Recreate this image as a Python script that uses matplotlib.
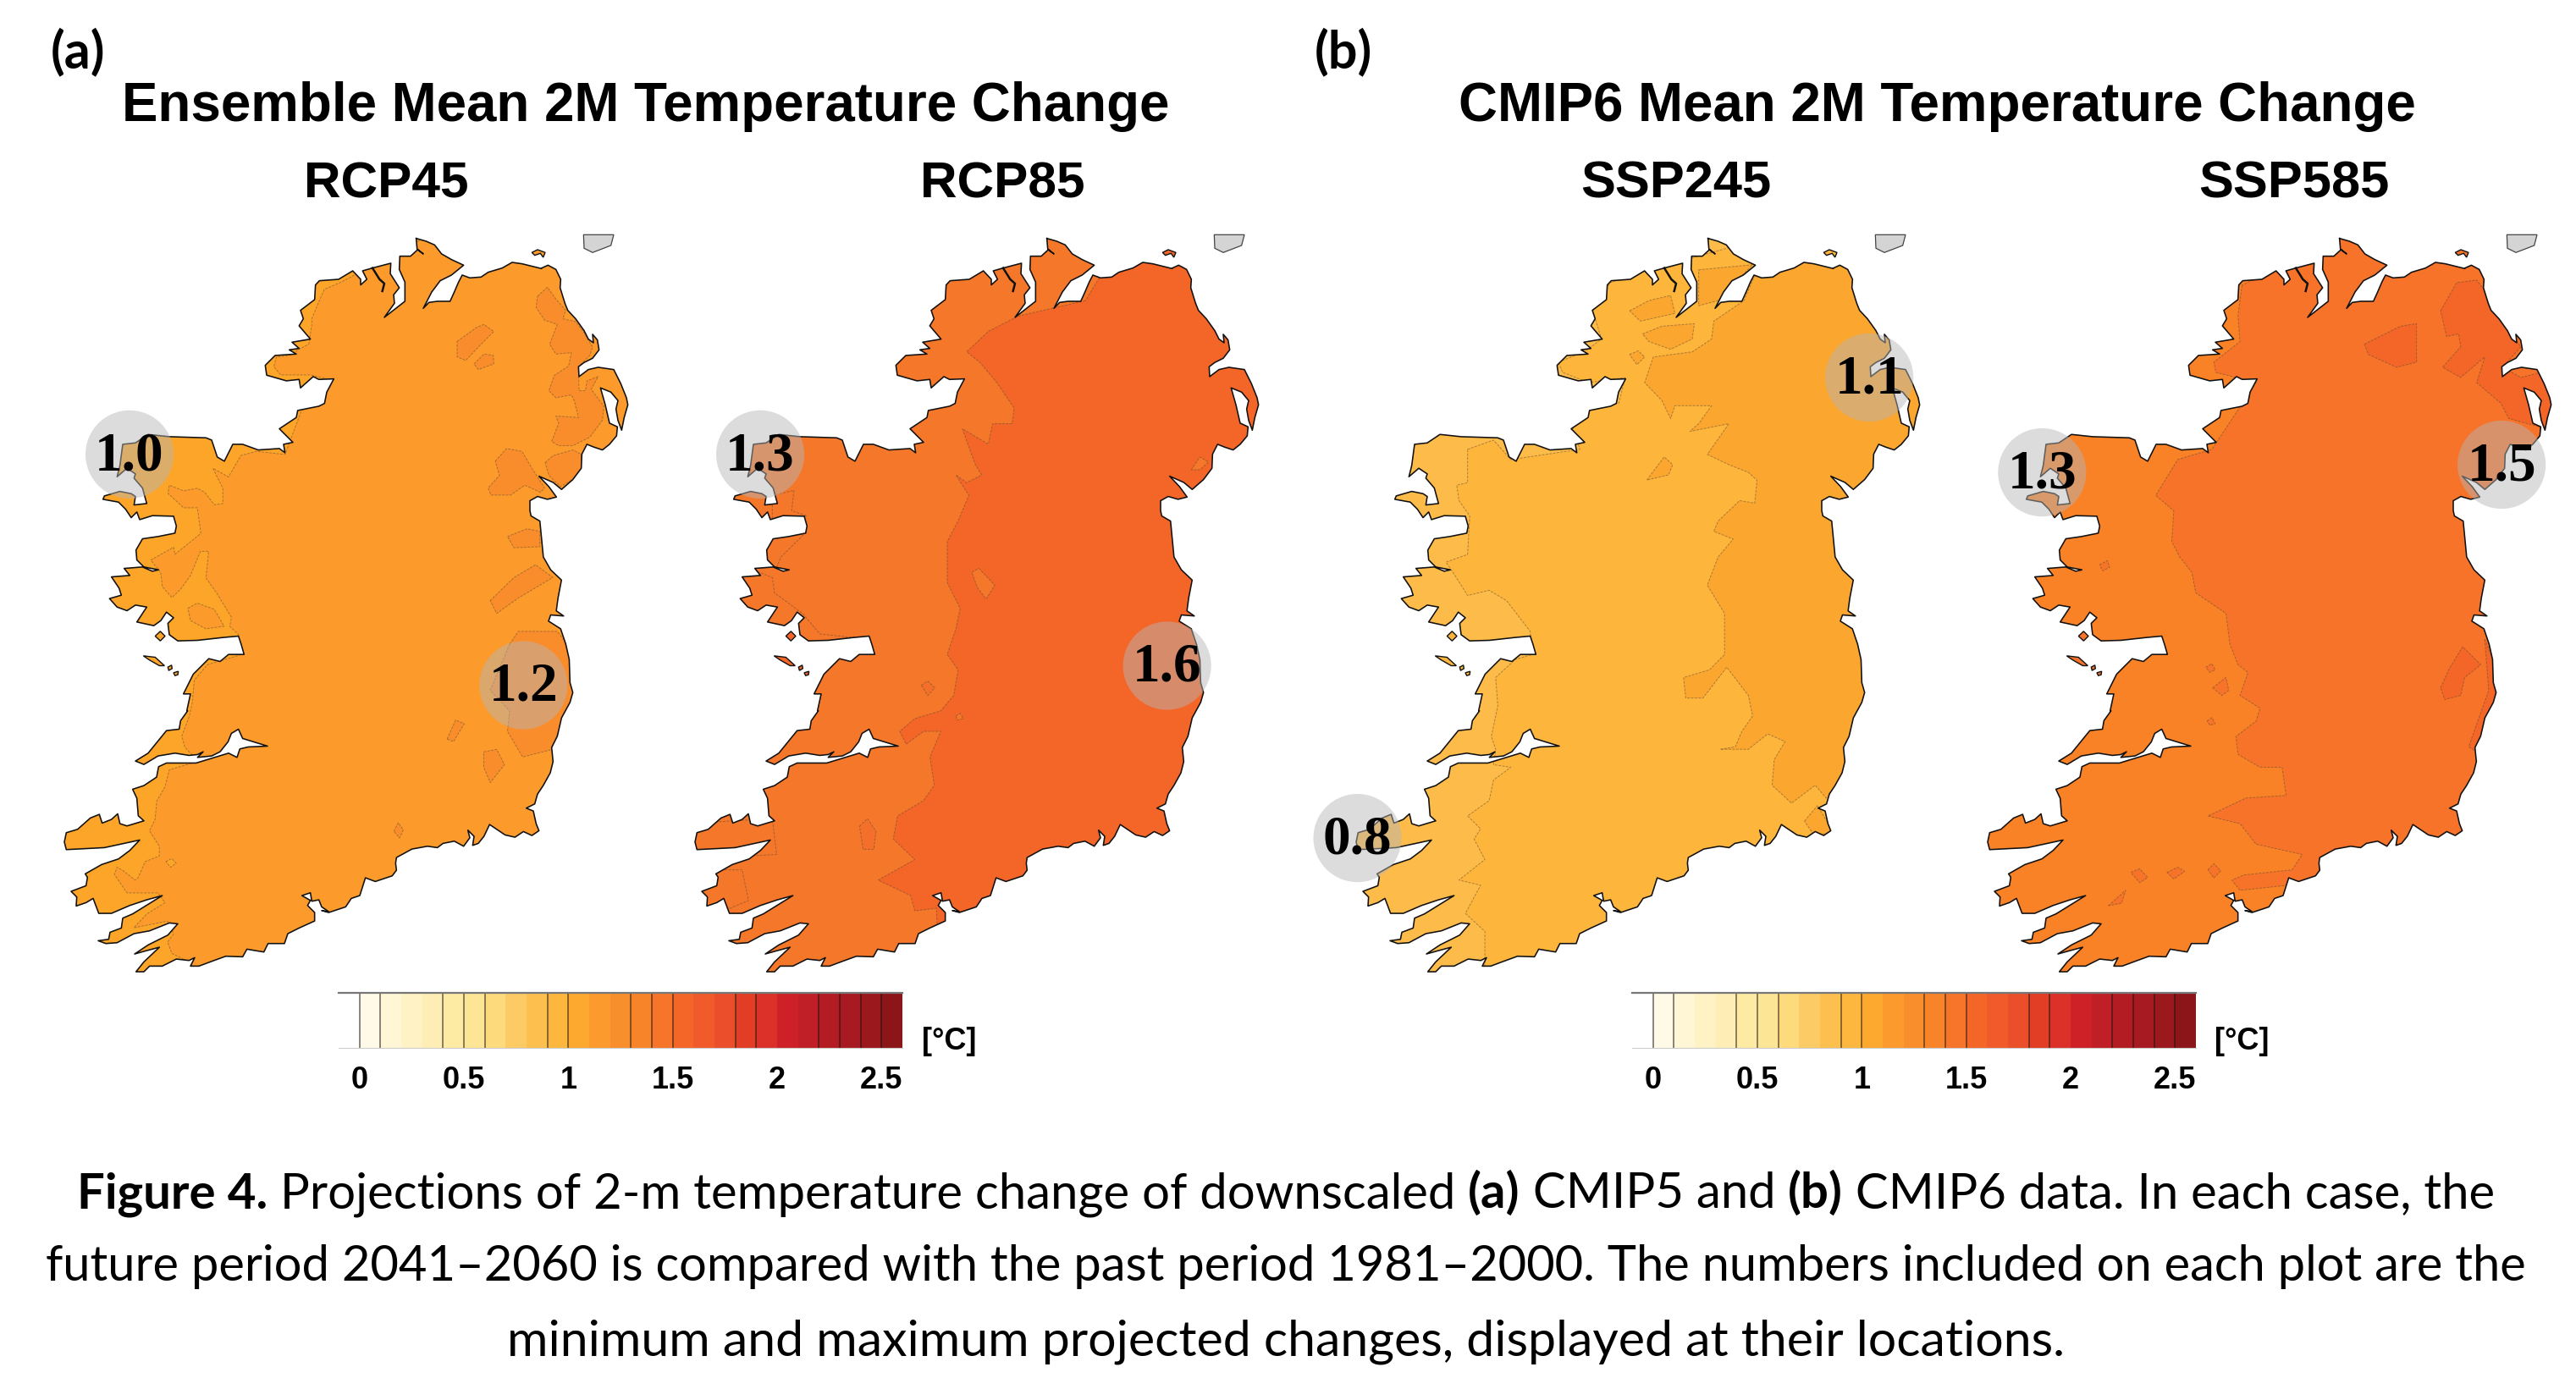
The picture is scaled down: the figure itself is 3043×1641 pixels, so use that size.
import matplotlib
matplotlib.use('Agg')
import matplotlib.pyplot as plt
from matplotlib.patches import Polygon, Ellipse

W, H = 3043, 1641

# coast of Ireland, traced clockwise from the north tip, in stretches.
# each stretch has its own reading frame: (left px, top px, units per px x, units per px y)
north_frame = (300, 270, 3, 3)
north_coast = [(575,35),(610,45),(640,58),(665,90),(700,110),(743,130),(700,165),(660,185),(630,225),(600,283),(620,262),(650,258),(695,258),(710,225),(725,190),(738,165),(765,175),(805,172),(830,155),(880,140),(915,120),(950,125),(990,135),(1019,142)]
ne_frame = (540, 270, 3, 3)
ne_coast = [(300,140),(322,130),(350,145),(367,180),(365,210),(382,265),(392,290),(420,320),(450,362),(465,392),(483,405),(480,375),(497,395),(503,430),(480,460),(450,475),(430,490),(432,525),(465,500),(500,492),(555,500),(580,550),(600,600),(605,625),(592,670),(583,715),(570,680),(563,640),(570,610),(545,580),(508,565),(525,625),(540,690),(568,703),(565,735),(540,765),(515,785),(485,775),(460,765),(442,800),(440,850),(410,890),(370,925),(340,900),(290,878),(325,915),(352,952),(320,960),(285,950),(258,965),(258,1000),(262,1019)]
map_frame = (0, 240, 1.96, 1.65)
east_coast = [(1250,620),(1258,690),(1275,715),(1300,735),(1292,770),(1288,795),(1305,805),(1275,803),(1270,815),(1298,830),(1310,860),(1318,890)]
se_frame = (380, 800, 3, 3)
se_coast = [(880,20),(890,55),(880,90),(850,145),(835,210),(815,250),(820,300),(810,340),(785,385),(765,415),(755,450),(725,465),(750,475),(760,520),(770,545),(745,562),(715,548),(685,568),(650,560),(595,523),(575,565),(555,590),(535,597),(540,565),(518,543),(525,570),(503,600),(470,582),(430,590),(410,605),(375,600),(320,610),(265,640),(262,660),(265,685),(250,705),(190,725),(155,712),(135,775),(105,785),(85,815),(25,835),(0,828)]
sw_frame = (60, 840, 3, 3)
sw_coast = [(985,712),(960,695),(950,670),(925,675),(920,645),(890,655),(920,672),(910,690),(935,715),(935,745),(880,770),(840,790),(828,825),(770,825),(755,855),(695,845),(680,872),(620,870),(565,890),(525,905),(495,905),(510,875),(490,885),(445,880),(395,905),(350,905),(330,925),(302,925),(330,890),(385,838),(340,850),(297,862),(345,830),(415,795),(450,755),(420,752),(350,780),(295,790),(235,822),(195,825),(168,815),(205,810),(210,785),(250,770),(255,735),(290,720),(395,655),(340,670),(280,690),(215,718),(170,718),(150,665),(125,680),(90,692),(92,660),(72,640),(125,620),(130,590),(122,578),(180,545),(240,525),(280,495),(315,458),(190,485),(55,492),(48,465),(55,432),(95,420),(140,380),(172,367),(182,398),(215,385),(237,365),(245,400),(270,408),(330,390),(310,372),(305,310),(290,278),(330,265),(375,235),(382,198),(410,185),(515,185),(630,150),(660,165),(670,135),(700,128),(768,125),(680,98),(665,65),(640,80),(628,110),(600,145),(570,160),(520,165),(540,145),(520,155),(490,158),(440,150),(380,160),(330,190),(300,178),(345,150),(410,70),(455,65),(460,35),(485,0)]
west_frame = (100, 480, 3, 3)
west_coast = [(362,1080),(375,1020),(350,1020),(385,950),(440,895),(480,905),(510,880),(565,880),(555,845),(545,815),(490,820),(400,830),(330,832),(300,810),(295,770),(315,750),(290,730),(270,760),(245,778),(185,765),(220,712),(180,705),(150,725),(115,712),(88,682),(130,670),(122,645),(95,605),(160,600),(140,575),(205,570),(240,585),(262,580),(210,570),(185,545),(182,510),(205,470),(260,462),(320,450),(325,425),(315,390),(240,388),(195,402),(185,375),(165,395),(145,365),(120,340),(65,330),(70,318),(125,302),(165,310),(180,320),(175,350),(220,345),(205,290),(175,255),(180,240),(150,220),(115,250),(125,210),(135,135),(180,130),(225,100),(300,108),(430,112),(450,120),(470,180),(495,195),(525,135),(560,135),(615,155),(690,150),(710,165),(705,135),(738,128),(690,80)]
nw_coast = [(150,670),(155,645),(230,630),(250,620),(258,580),(283,533),(230,535),(210,525),(165,565),(160,535),(115,540),(45,520),(40,485),(75,450),(150,445),(125,430),(160,425),(135,403),(200,392),(160,345),(175,320),(165,290),(215,252),(218,200),(232,185),(300,180),(350,150),(378,180),(378,200),(400,180),(385,150),(420,140),(485,123),(483,160),(515,210),(495,235),(498,265),(462,315),(535,258),(535,190),(515,145),(517,98),(555,98),(580,75),(600,90),(578,72)]

foyle_line = [(420,140),(445,180),(462,195),(455,222)]
aran_1 = [(208,885),(250,890),(283,920),(265,920),(230,900)]
aran_2 = [(295,925),(308,918),(310,930),(298,937)]
aran_3 = [(315,945),(332,940),(330,952),(320,955)]
bofin = [(250,815),(268,798),(285,815),(268,832)]
rathlin = [(265,85),(285,75),(312,85),(305,102),(295,88),(275,95)]
scotland = [(448,22),(555,22),(545,60),(480,85),(450,70)]

# shading levels, as read per panel
panel_names = ['RCP45', 'RCP85', 'SSP245', 'SSP585']
base_colors = ['#FDA528', '#F5772A', '#FDBB49', '#F98227']
mid_colors = ['#FC9B2B', '#F46528', '#FDB53C', '#F67329']
top_colors = ['#F98D2B', '#F5772A', '#FBA62F', '#F46528']

mid_rcp45 = [(790,154),(751,168),(741,187),(722,225),(722,236),(715,275),(692,285),(670,297),(640,300),(634,319),(650,335),(719,335),(770,345),(700,400),(660,490),(594,484),(558,492),(529,534),(493,517),(516,556),(516,586),(496,588),(474,564),(457,556),(425,561),(392,550),(389,566),(425,594),(457,594),(465,644),(405,685),(402,671),(349,696),(372,720),(376,748),(398,769),(418,753),(441,726),(464,679),(483,679),(477,731),(503,762),(536,808),(532,825),(552,841),(560,880),(480,900),(450,930),(445,975),(438,1001),(421,1039),(428,1061),(444,1075),(470,1085),(424,1097),(392,1105),(382,1138),(363,1166),(359,1202),(346,1224),(369,1254),(369,1273),(336,1284),(320,1315),(313,1320),(284,1301),(271,1295),(265,1309),(294,1345),(366,1345),(382,1364),(340,1386),(310,1413),(388,1400),(402,1425),(388,1441),(398,1463),(431,1477),(437,1600),(1600,1600),(1600,60),(1000,60)]
mid_rcp45_oval = [(435,790),(457,780),(496,792),(519,825),(477,830),(441,814)]
back_rcp45 = [(384,1284),(398,1278),(408,1287),(395,1295)]
top_rcp45_ne = [(285,240),(320,208),(350,250),(385,290),(375,320),(420,330),(450,370),(480,420),(470,450),(430,490),(432,575),(455,575),(460,540),(500,525),(475,570),(520,630),(515,680),(470,740),(410,770),(360,770),(335,755),(360,690),(350,665),(430,670),(415,610),(405,590),(350,600),(325,575),(345,520),(395,488),(405,440),(350,445),(328,410),(355,340),(310,325),(280,280)]
top_rcp45_blob1 = [(0,400),(70,350),(95,340),(130,365),(90,405),(30,468),(0,455)]
top_rcp45_blob2 = [(60,480),(95,445),(128,450),(130,480),(75,500)]
top_rcp45_blob3 = [(135,825),(175,780),(230,790),(265,850),(310,920),(295,935),(240,910),(190,945),(120,945),(110,920),(150,875)]
top_rcp45_blob4 = [(312,830),(340,805),(410,785),(440,800),(440,850),(410,890),(365,915),(325,875)]
top_rcp45 = [
    [(1175,650),(1220,635),(1250,640),(1250,670),(1190,672)],
    [(1135,775),(1190,730),(1240,705),(1280,730),(1200,770),(1150,800)],
    [(1180,860),(1200,835),(1290,835),(1400,950),(1300,1010),(1280,1065),(1210,1080),(1175,1030),(1180,990),(1135,950)],
    [(1035,1045),(1055,1008),(1075,1015),(1050,1050)],
    [(1120,1070),(1150,1065),(1168,1095),(1135,1130),(1120,1100)],
    [(912,1225),(922,1208),(934,1222),(925,1238)],
]

mid_rcp85 = [(985,190),(830,220),(760,250),(710,290),(740,310),(780,350),(820,400),(815,430),(770,430),(760,470),(700,440),(730,510),(745,530),(710,545),(685,530),(715,570),(690,620),(665,660),(665,740),(695,790),(685,830),(665,880),(690,910),(680,960),(650,990),(590,1005),(555,1030),(570,1055),(610,1030),(650,1030),(625,1080),(635,1135),(610,1165),(550,1195),(540,1240),(590,1280),(505,1320),(580,1350),(590,1380),(640,1375),(650,1600),(1600,1600),(1600,0),(1050,100)]
top_rcp85 = [
    [(738,712),(775,745),(755,772),(735,750),(722,720)],
    [(685,1000),(695,995),(702,1005),(688,1008)],
    [(1230,520),(1250,495),(1270,505),(1250,520)],
]
back_rcp85 = [
    [(60,1210),(260,1200),(270,1270),(60,1280)],
    [(90,1300),(190,1300),(205,1360),(90,1400)],
    [(170,700),(260,730),(265,760),(330,800),(370,840),(480,850),(400,870),(250,870),(150,800)],
    [(240,650),(340,640),(280,690),(270,710),(240,700)],
    [(260,570),(310,560),(305,600),(340,610),(260,620)],
]
dip_rcp85 = [
    [(605,940),(620,932),(636,945),(620,960)],
    [(462,1215),(480,1200),(500,1225),(495,1260),(470,1260)],
]

mid_ssp245 = [(380,480),(440,462),(480,500),(640,480),(620,430),(660,400),(730,390),(745,340),(660,350),(600,330),(590,310),(650,290),(690,265),(670,210),(710,155),(800,130),(1100,60),(1600,60),(1600,1600),(420,1600),(420,1420),(375,1385),(410,1330),(360,1320),(420,1280),(395,1240),(410,1220),(380,1195),(430,1165),(440,1125),(480,1100),(440,1095),(445,1065),(435,1040),(450,980),(445,925),(490,890),(530,880),(525,835),(470,775),(430,755),(380,765),(350,725),(330,700),(380,685),(385,610),(360,580),(355,550),(380,545)]
top_ssp245 = [
    [(1045,140),(1020,190),(950,230),(945,265),(900,290),(810,300),(790,350),(830,385),(850,420),(860,395),(945,395),(915,430),(895,445),(985,430),(935,490),(985,510),(1030,525),(1050,540),(1045,585),(1010,580),(960,620),(950,640),(995,655),(960,690),(935,745),(975,800),(975,880),(940,910),(880,925),(885,965),(925,965),(980,905),(1030,960),(1040,1000),(1015,1030),(1000,1060),(965,1065),(1030,1065),(1075,1035),(1115,1050),(1090,1085),(1085,1135),(1130,1170),(1185,1135),(1210,1160),(1600,1100),(1600,0),(1100,60)],
    [(1160,1205),(1190,1175),(1230,1230),(1180,1230)],
    [(795,540),(835,495),(855,510),(845,530)],
    [(915,130),(1040,120),(960,190),(915,200)],
    [(755,210),(800,190),(850,180),(860,215),(780,230)],
    [(785,255),(830,240),(905,235),(900,265),(850,285),(800,270)],
    [(755,295),(775,288),(790,300),(772,315)],
]

mid_ssp585 = [(735,160),(725,220),(730,270),(665,310),(670,330),(770,350),(660,480),(575,500),(520,570),(565,600),(560,660),(580,690),(610,720),(620,760),(695,800),(705,860),(725,900),(750,915),(730,960),(780,985),(770,1010),(720,1040),(725,1075),(780,1100),(835,1100),(845,1155),(745,1160),(650,1195),(730,1210),(770,1250),(885,1270),(860,1300),(740,1310),(710,1320),(730,1340),(850,1330),(850,1600),(1600,1600),(1600,0),(1000,60)]
top_ssp585 = [
    [(1230,210),(1270,155),(1320,150),(1345,175),(1370,220),(1430,280),(1385,320),(1430,340),(1480,330),(1520,370),(1495,440),(1400,420),(1380,390),(1320,350),(1340,300),(1280,340),(1235,320),(1280,280),(1275,255),(1245,260)],
    [(1040,275),(1130,240),(1170,235),(1170,310),(1120,320),(1050,295)],
    [(1230,945),(1250,910),(1285,865),(1330,900),(1290,925),(1280,960),(1240,968)],
    [(1340,850),(1390,950),(1320,1070),(1300,1060),(1350,950)],
]
dip_ssp585 = [
    [(458,1305),(480,1298),(500,1315),(480,1325)],
    [(548,1305),(575,1295),(592,1303),(565,1318)],
    [(650,1300),(665,1288),(682,1302),(665,1316)],
    [(402,1370),(445,1340),(435,1365)],
    [(380,705),(400,697),(405,710),(388,717)],
    [(645,905),(660,898),(668,910),(655,915)],
    [(662,945),(695,925),(702,950),(685,960)],
    [(648,1010),(660,1003),(668,1015),(655,1018)],
]

# reading offsets of the shading layers, per panel
panel_dx = [0, 68, 27, 55]
panel_sx = [1, 1, 1, 0.929]
panel_left = [0, 745, 1526, 2272]

# min / max labels (map units)
bubble_panel = [0, 0, 1, 1, 2, 2, 3, 3]
bubble_x = [300, 1212, 300, 1242, 152, 1337, 275, 1339]
bubble_y = [490, 940, 490, 902, 1238, 340, 525, 510]
bubble_text = ['1.0', '1.2', '1.3', '1.6', '0.8', '1.1', '1.3', '1.5']

# colour bar
cbar_edges = [round(-0.1 + 0.1 * i, 1) for i in range(27)]
cbar_colors = ['#FFFFFF','#FFFAE8','#FFF6D5','#FFF2C5','#FEEEB5','#FDEAA3','#FDE596','#FDDA7C','#FDCB66','#FDC04F','#FDB73E','#FDA82F','#FC9A2E','#F98F2C','#F8842A','#F6752A','#F46628','#F15A2A','#EA4E2A','#E23E26','#DB3129','#CE2027','#C01F27','#B41C24','#A81A21','#9B181D','#8C1519']
cbar_lines = [0, 0.1, 0.4, 0.5, 0.6, 0.9, 1.0, 1.3, 1.4, 1.5, 1.8, 1.9, 2.2, 2.3, 2.4, 2.5]
cbar_ticks = [0, 0.5, 1, 1.5, 2, 2.5]
cbar_ticklabels = ['0', '0.5', '1', '1.5', '2', '2.5']
cbar_left = [400, 1928]


def to_map(points, frame):
    # from the reading frame to map units (1.96 per px in x, 1.65 per px in y, top of maps at 240)
    left, top_px, ux, uy = frame
    return [((left + a / ux) * 1.96, (top_px + b / uy - 240) * 1.65) for a, b in points]


coast = (to_map(north_coast, north_frame) + to_map(ne_coast, ne_frame) + to_map(east_coast, map_frame)
         + to_map(se_coast, se_frame) + to_map(sw_coast, sw_frame) + to_map(west_coast, west_frame)
         + to_map(nw_coast, north_frame))
coast_x = [p[0] for p in coast]
coast_y = [p[1] for p in coast]

ne_blobs = [to_map(b, ne_frame) for b in [top_rcp45_ne, top_rcp45_blob1, top_rcp45_blob2, top_rcp45_blob3, top_rcp45_blob4]]
mid_layers = [[mid_rcp45], [mid_rcp85], [mid_ssp245], [mid_ssp585]]
top_layers = [top_rcp45 + ne_blobs, top_rcp85, top_ssp245, top_ssp585]
back_layers = [[back_rcp45], back_rcp85, [], []]
dip_layers = [[mid_rcp45_oval], dip_rcp85, [], dip_ssp585]
dip_colors = [mid_colors[0], '#F4702A', mid_colors[2], mid_colors[3]]

fig = plt.figure(figsize=(W / 100, H / 100), dpi=100, facecolor='white')


def ax_px(x, y, w, h):
    return fig.add_axes([x / W, 1 - (y + h) / H, w / W, h / H])


def layer(ax, polys, color, clip, sx, dx):
    for p in polys:
        xy = [(sx * a + dx, b) for a, b in p]
        patch = Polygon(xy, closed=True, facecolor=color, zorder=2, edgecolor=(0.35, 0.28, 0.2, 0.5),
                        linewidth=0.7, linestyle=(0, (3, 1.5)), joinstyle='round')
        ax.add_patch(patch)
        patch.set_clip_path(clip)


for i in range(4):
    ax = ax_px(panel_left[i], 240, 800, 950)
    ax.set_xlim(0, 1568)
    ax.set_ylim(1568, 0)
    ax.axis('off')
    ax.patch.set_alpha(0)

    land = Polygon(coast, closed=True, facecolor=base_colors[i], edgecolor='none', zorder=1)
    ax.add_patch(land)
    sx, dx = panel_sx[i], panel_dx[i]
    layer(ax, mid_layers[i], mid_colors[i], land, sx, dx)
    layer(ax, top_layers[i], top_colors[i], land, sx, dx)
    layer(ax, back_layers[i], base_colors[i], land, sx, dx)
    layer(ax, dip_layers[i], dip_colors[i], land, sx, dx)
    ax.plot(coast_x + coast_x[:1], coast_y + coast_y[:1], color='#111111', lw=1.15, zorder=3)
    for isl in [aran_1, aran_2, aran_3, bofin]:
        pts = to_map(isl, west_frame)
        ax.fill([p[0] for p in pts], [p[1] for p in pts], facecolor=mid_colors[i] if i != 0 else base_colors[i],
                edgecolor='#111111', lw=1.0, zorder=3)
    pts = to_map(rathlin, ne_frame)
    ax.fill([p[0] for p in pts], [p[1] for p in pts], facecolor=mid_colors[i], edgecolor='#111111', lw=1.0, zorder=3)
    pts = to_map(foyle_line, north_frame)
    ax.plot([p[0] for p in pts], [p[1] for p in pts], color='#111111', lw=1.8, zorder=3)
    pts = to_map(scotland, ne_frame)
    ax.fill([p[0] for p in pts], [p[1] for p in pts], facecolor='#D4D4D4', edgecolor='#444444', lw=0.9, zorder=3)

    for p, bx, by, t in zip(bubble_panel, bubble_x, bubble_y, bubble_text):
        if p != i:
            continue
        ax.add_patch(Ellipse((bx, by), 204, 172, facecolor='#B6B6B6', alpha=0.48,
                             edgecolor='none', zorder=4))
        ax.text(bx, by + 4, t, ha='center', va='center', family='Liberation Serif',
                weight='bold', fontsize=47, color='black', zorder=5)

for left in cbar_left:
    cax = ax_px(left, 1173, 666, 65)
    cax.bar(cbar_edges, [1] * len(cbar_edges), width=0.1, align='edge', color=cbar_colors, linewidth=0)
    cax.vlines(cbar_lines, 0, 1, color=(0.1, 0.08, 0.05, 0.6), lw=1.2)
    cax.set_xlim(-0.1, 2.6)
    cax.set_ylim(0, 1)
    cax.set_yticks([])
    cax.set_xticks(cbar_ticks)
    cax.set_xticklabels(cbar_ticklabels, family='Liberation Sans', weight='bold', fontsize=26)
    cax.tick_params(axis='x', length=0, pad=15)
    for s in ['left', 'right']:
        cax.spines[s].set_visible(False)
    cax.spines['top'].set_color('#777777')
    cax.spines['top'].set_linewidth(1.6)
    cax.spines['bottom'].set_color('#CCCCCC')

# overlay in pixel units for the headings and the caption
top = fig.add_axes([0, 0, 1, 1])
top.set_xlim(0, W)
top.set_ylim(H, 0)
top.axis('off')
top.patch.set_alpha(0)

for x in [1089, 2616]:
    top.text(x, 1230, '[°C]', ha='left', va='center', family='Liberation Sans', weight='bold', fontsize=26)

head = dict(family='Liberation Sans', weight='bold', ha='center', va='baseline')
top.text(763, 143, 'Ensemble Mean 2M Temperature Change', fontsize=45.8, **head)
top.text(2288, 143, 'CMIP6 Mean 2M Temperature Change', fontsize=45.8, **head)
top.text(456, 233, 'RCP45', fontsize=43.5, **head)
top.text(1184, 233, 'RCP85', fontsize=43.5, **head)
top.text(1980, 233, 'SSP245', fontsize=44.2, **head)
top.text(2710, 233, 'SSP585', fontsize=44.2, **head)
top.text(60, 80, '(a)', family='Lato', weight='bold', fontsize=44, ha='left', va='baseline')
top.text(1553, 80, '(b)', family='Lato', weight='bold', fontsize=44, ha='left', va='baseline')

caption = [
    (1427, 41.9, [('Figure 4.', 'bold'), (' Projections of 2-m temperature change of downscaled ', 'normal'), ('(a)', 'bold'),
                  (' CMIP5 and ', 'normal'), ('(b)', 'bold'), (' CMIP6 data. In each case, the', 'normal')]),
    (1513, 41.65, [('future period 2041–2060 is compared with the past period 1981–2000. The numbers included on each plot are the', 'normal')]),
    (1602, 42.5, [('minimum and maximum projected changes, displayed at their locations.', 'normal')]),
]
renderer = fig.canvas.get_renderer()
for base, size, runs in caption:
    items = []
    for txt, wt in runs:
        t = top.text(0, base, txt.replace(' ', '\u00a0'), family='Lato', weight=wt, fontsize=size, ha='left', va='baseline')
        items.append(t)
    widths = [t.get_window_extent(renderer).width for t in items]
    x = 1519 - sum(widths) / 2
    for t, w in zip(items, widths):
        t.set_x(x)
        x += w

fig.savefig('out.png', dpi=100)
